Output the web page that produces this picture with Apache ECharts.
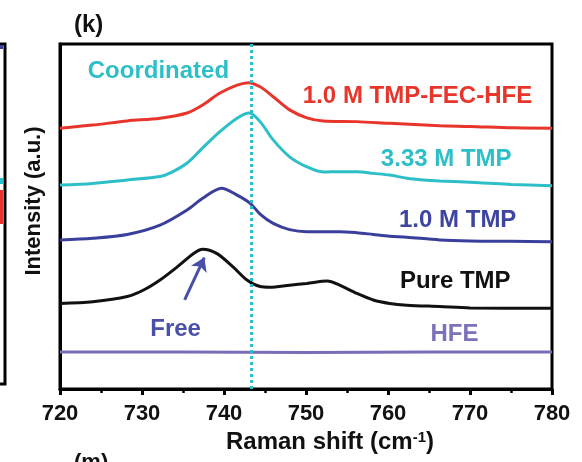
<!DOCTYPE html>
<html>
<head>
<meta charset="utf-8">
<script src="https://cdn.jsdelivr.net/npm/echarts@6/dist/echarts.min.js"></script>
<style>
  html, body { margin: 0; padding: 0; background: #fff; }
  #chart { width: 582px; height: 462px; }
</style>
</head>
<body>
<div id="chart"></div>
<script>
// Raman spectra (P–O region), stacked with vertical offsets, arbitrary intensity units
const xTicks = [720, 730, 740, 750, 760, 770, 780];

const fecHfeShift = [720, 724, 728.2, 732.2, 735.5, 737.4, 739.5, 741.6, 743.0, 744.4, 746.0, 748.0, 750.1, 752.1, 756.2, 760.2, 766.3, 770, 775.2, 780];
const fecHfeIntensity = [75.6, 76.5, 77.7, 78.5, 80.0, 82.3, 85.8, 88.1, 88.8, 87.6, 84.7, 80.9, 78.6, 77.7, 77.5, 77.0, 76.3, 76.1, 75.7, 75.6];

const tmp333Shift = [720, 724, 728.2, 732.2, 733.6, 735.5, 737.4, 739.5, 741.6, 743.1, 744.4, 746.0, 748.0, 750.1, 752.1, 754.1, 756.2, 758.2, 760.2, 762.3, 764.3, 766.3, 771.2, 775, 780];
const tmp333Intensity = [59.1, 59.6, 60.6, 61.6, 62.8, 65.5, 69.9, 74.6, 78.5, 80.0, 77.5, 72.2, 67.3, 64.4, 62.9, 63.0, 63.0, 62.5, 62.0, 61.1, 60.6, 60.3, 59.8, 59.3, 58.9];

const tmp10Shift = [720, 724, 728.2, 732.2, 735.5, 737.4, 739.7, 741.6, 743.2, 744.4, 746.0, 748.0, 750.1, 754.1, 756.2, 758.2, 760.2, 762.3, 766.3, 770, 775, 780];
const tmp10Intensity = [43.2, 43.7, 44.8, 47.5, 51.9, 55.3, 58.2, 56.2, 53.8, 50.7, 48.0, 46.2, 45.6, 45.6, 45.3, 44.8, 44.3, 44.0, 43.2, 42.9, 42.8, 42.7];

const pureShift = [720, 724, 728.2, 730.2, 732.2, 734.3, 736.3, 737.4, 739.1, 741.1, 742.8, 744.4, 745.6, 748.0, 750.1, 752.6, 754.1, 756.2, 758.2, 760.2, 762.3, 766.3, 770, 780];
const pureIntensity = [24.8, 25.3, 26.8, 28.7, 31.6, 35.4, 39.3, 40.5, 39.3, 35.4, 31.6, 29.7, 29.5, 30.1, 30.6, 31.3, 30.1, 27.7, 25.8, 24.8, 24.3, 23.9, 23.5, 23.4];

const hfeShift = [720, 735, 750, 765, 780];
const hfeIntensity = [10.7, 10.7, 10.6, 10.7, 10.7];

const seriesNames = ['1.0 M TMP-FEC-HFE', '3.33 M TMP', '1.0 M TMP', 'Pure TMP', 'HFE'];
const coordinatedPeak = 743.3;   // coordinated P–O band position
const freePeak = [737.4, 40.5];  // free TMP band maximum

const FONT = '"Liberation Sans", Arial, Helvetica, sans-serif';
const RED = '#E8352B', CYAN = '#2DBFC8', BLUE = '#3A3F9B', BLACK = '#111111', PURPLE = '#7A6CB8';
const LABEL_SIZE = 24;

const zip = (xs, ys) => xs.map((x, i) => [x, ys[i]]);

function tag(text, coord, color) {
  return {
    symbolSize: 0,
    data: [{ coord: coord, value: text }],
    label: {
      show: true, position: 'inside', formatter: text,
      color: color, fontFamily: FONT, fontWeight: 'bold', fontSize: LABEL_SIZE
    }
  };
}

function curve(name, xs, ys, color, extra) {
  return Object.assign({
    name: name,
    type: 'line',
    data: zip(xs, ys),
    smooth: 0.3,
    showSymbol: false,
    lineStyle: { color: color, width: 3 },
    itemStyle: { color: color },
    z: 3
  }, extra || {});
}

const chart = echarts.init(document.getElementById('chart'), null, { renderer: 'canvas' });

chart.setOption({
  animation: false,
  backgroundColor: '#fff',
  title: {
    text: '(k)', left: 69, top: 8,
    textStyle: { fontFamily: FONT, fontWeight: 'bold', fontSize: 24, color: '#111' }
  },
  grid: {
    left: 60, top: 44, width: 492, height: 345,
    show: true, borderColor: '#000', borderWidth: 3, backgroundColor: 'transparent'
  },
  xAxis: {
    type: 'value', min: xTicks[0], max: xTicks[xTicks.length - 1], interval: 10,
    name: '{n|Raman shift (cm}{s|-1}{n|)}',
    nameLocation: 'middle', nameGap: 39,
    nameTextStyle: {
      padding: [0, 0, 0, 48],
      rich: {
        n: { fontFamily: FONT, fontWeight: 'bold', fontSize: 24, color: '#111' },
        s: { fontFamily: FONT, fontWeight: 'bold', fontSize: 15, color: '#111', verticalAlign: 'top' }
      }
    },
    axisLine: { show: true, lineStyle: { color: '#000', width: 3 } },
    axisTick: { show: true, inside: false, length: 6, lineStyle: { color: '#000', width: 3 } },
    minorTick: { show: true, splitNumber: 2, length: 4, lineStyle: { color: '#000', width: 2.5 } },
    axisLabel: {
      margin: 14, color: '#111', fontFamily: FONT, fontWeight: 'bold', fontSize: 22,
      formatter: v => (xTicks.indexOf(v) >= 0 ? String(v) : '')
    },
    splitLine: { show: false }
  },
  yAxis: {
    type: 'value', min: 0, max: 100,
    name: 'Intensity (a.u.)', nameLocation: 'middle', nameGap: 15,
    nameTextStyle: { fontFamily: FONT, fontWeight: 'bold', fontSize: 22, color: '#111', padding: [0, 0, 0, 31] },
    axisLine: { show: true, lineStyle: { color: '#000', width: 3 } },
    axisTick: { show: false },
    axisLabel: { show: false },
    splitLine: { show: false }
  },
  series: [
    curve(seriesNames[0], fecHfeShift, fecHfeIntensity, RED, {
      markPoint: tag(seriesNames[0], [763.6, 84.9], RED)
    }),
    curve(seriesNames[1], tmp333Shift, tmp333Intensity, CYAN, {
      markPoint: {
        symbolSize: 0,
        data: [
          { coord: [767.1, 66.7], value: seriesNames[1], label: { formatter: seriesNames[1] } },
          { coord: [732.0, 92.0], value: 'Coordinated', label: { formatter: 'Coordinated' } }
        ],
        label: { show: true, position: 'inside', color: CYAN, fontFamily: FONT, fontWeight: 'bold', fontSize: LABEL_SIZE }
      },
      markLine: {
        silent: true, symbol: 'none',
        lineStyle: { color: CYAN, width: 3, type: [3, 3] },
        label: { show: false },
        data: [{ xAxis: coordinatedPeak }]
      }
    }),
    curve(seriesNames[2], tmp10Shift, tmp10Intensity, BLUE, {
      markPoint: {
        symbolSize: 0,
        data: [
          { coord: [768.5, 49.0], value: seriesNames[2], label: { formatter: seriesNames[2], color: '#3D45A0' } },
          { coord: [734.1, 17.4], value: 'Free', label: { formatter: 'Free', color: '#4A50A8' } }
        ],
        label: { show: true, position: 'inside', fontFamily: FONT, fontWeight: 'bold', fontSize: LABEL_SIZE }
      },
      markLine: {
        silent: true,
        symbol: ['none', 'arrow'], symbolSize: [13, 13],
        lineStyle: { color: '#4A50A8', width: 3, type: 'solid' },
        label: { show: false },
        data: [[{ coord: [735.2, 25.8] }, { coord: [freePeak[0] + 0.2, freePeak[1] - 2.4] }]]
      }
    }),
    curve(seriesNames[3], pureShift, pureIntensity, BLACK, {
      markPoint: tag(seriesNames[3], [768.2, 31.3], BLACK)
    }),
    curve(seriesNames[4], hfeShift, hfeIntensity, PURPLE, {
      smooth: false,
      markPoint: tag(seriesNames[4], [768.1, 15.8], '#7E70BA')
    })
  ],
  graphic: [
    // edge of the neighbouring panel on the left
    {
      type: 'polyline', silent: true,
      shape: { points: [[0, 44], [5, 44], [5, 384], [0, 384]] },
      style: { stroke: '#000', lineWidth: 3, fill: null }
    },
    { type: 'rect', silent: true, shape: { x: 0, y: 45, width: 3, height: 4 }, style: { fill: BLUE } },
    { type: 'rect', silent: true, shape: { x: 0, y: 178, width: 3, height: 6 }, style: { fill: CYAN } },
    { type: 'rect', silent: true, shape: { x: 0, y: 190, width: 3, height: 34 }, style: { fill: RED } },
    // caption of the panel below
    {
      type: 'text', silent: true, left: 74, top: 452,
      style: { text: '(m)', fontFamily: FONT, fontWeight: 'bold', fontSize: 22, fill: '#111' }
    }
  ]
});
</script>
</body>
</html>
